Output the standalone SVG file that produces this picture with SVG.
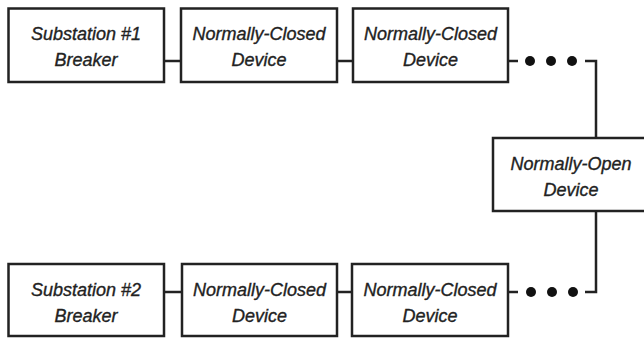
<svg xmlns="http://www.w3.org/2000/svg" width="644" height="339" viewBox="0 0 644 339">
<style>
.box{fill:#fff;stroke:#222;stroke-width:2.5}
.ln{fill:none;stroke:#222;stroke-width:2.5}
.dot{fill:#111}
text{font-family:"Liberation Sans",Arial,sans-serif;font-style:italic;font-size:18px;fill:#222;stroke:#222;stroke-width:0.35;text-anchor:middle}
</style>
<rect width="644" height="339" fill="#fff"/>
<g id="connectors">
<line class="ln" x1="164" y1="61" x2="181" y2="61"/>
<line class="ln" x1="337" y1="61" x2="353" y2="61"/>
<line class="ln" x1="508" y1="61" x2="518" y2="61"/>
<circle class="dot" cx="530" cy="61" r="5"/>
<circle class="dot" cx="551" cy="61" r="5"/>
<circle class="dot" cx="572" cy="61" r="5"/>
<polyline class="ln" points="585,61 596,61 596,138"/>
<line class="ln" x1="164" y1="292" x2="182" y2="292"/>
<line class="ln" x1="337" y1="292" x2="352" y2="292"/>
<line class="ln" x1="508" y1="292" x2="518" y2="292"/>
<circle class="dot" cx="531" cy="292" r="5"/>
<circle class="dot" cx="552" cy="292" r="5"/>
<circle class="dot" cx="573" cy="292" r="5"/>
<polyline class="ln" points="585,292 596,292 596,211"/>
</g>
<g id="sub1"><rect class="box" x="8.5" y="8.5" width="155.5" height="73.5"/><text x="86" y="40">Substation #1</text><text x="86" y="66">Breaker</text></g>
<g id="nc1"><rect class="box" x="181" y="8.5" width="156" height="73.5"/><text x="259" y="40">Normally-Closed</text><text x="259" y="66">Device</text></g>
<g id="nc2"><rect class="box" x="353" y="8.5" width="155" height="73.5"/><text x="430.5" y="40">Normally-Closed</text><text x="430.5" y="66">Device</text></g>
<g id="no"><rect class="box" x="493" y="138" width="156" height="73"/><text x="571" y="170">Normally-Open</text><text x="571" y="196">Device</text></g>
<g id="sub2"><rect class="box" x="8.5" y="264" width="155.5" height="72"/><text x="86" y="296">Substation #2</text><text x="86" y="322">Breaker</text></g>
<g id="nc3"><rect class="box" x="182" y="264" width="155" height="72"/><text x="259.5" y="296">Normally-Closed</text><text x="259.5" y="322">Device</text></g>
<g id="nc4"><rect class="box" x="352" y="264" width="156" height="72"/><text x="430" y="296">Normally-Closed</text><text x="430" y="322">Device</text></g>
</svg>
